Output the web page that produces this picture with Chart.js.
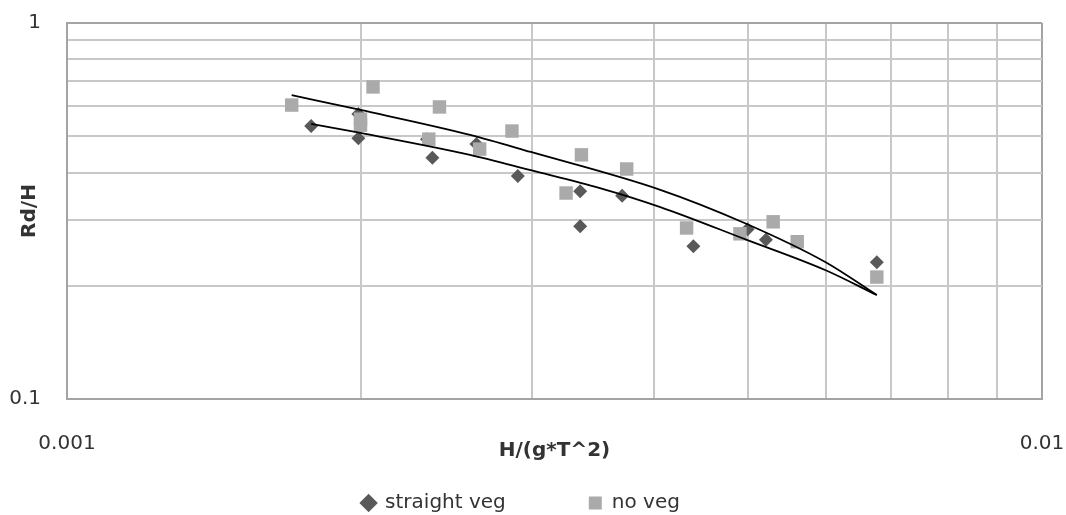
<!DOCTYPE html>
<html lang="en">
<head>
  <meta charset="UTF-8" />
  <title>Rd/H vs H/(g*T^2)</title>
  <style>
    body {
      margin: 0;
      background-color: #ffffff;
    }
    canvas {
      display: block;
    }
  </style>
</head>
<body>
  <canvas id="rdChart" width="1066" height="515"></canvas>

  <script src="https://cdn.jsdelivr.net/npm/chart.js"></script>
  <script>
    const straightVegX = [0.00178, 0.00199, 0.00199, 0.00234, 0.00237, 0.00263, 0.00290,
                          0.00336, 0.00336, 0.00371, 0.00439, 0.00499, 0.00521, 0.00677];
    const straightVegY = [0.532, 0.573, 0.494, 0.491, 0.438, 0.477, 0.392,
                          0.357, 0.288, 0.347, 0.255, 0.283, 0.265, 0.231];

    const noVegX = [0.00170, 0.00200, 0.00200, 0.00206, 0.00235, 0.00241, 0.00265, 0.00286,
                    0.00325, 0.00337, 0.00375, 0.00432, 0.00490, 0.00530, 0.00561, 0.00677];
    const noVegY = [0.605, 0.555, 0.535, 0.676, 0.491, 0.598, 0.462, 0.516,
                    0.353, 0.446, 0.409, 0.285, 0.275, 0.296, 0.262, 0.211];

    // trend lines
    const trendStraightX = [0.00178, 0.00200, 0.00259, 0.00299, 0.00352, 0.00406, 0.00498, 0.00600, 0.00677];
    const trendStraightY = [0.539, 0.510, 0.446, 0.406, 0.364, 0.324, 0.265, 0.220, 0.189];
    const trendNoVegX = [0.00170, 0.00200, 0.00259, 0.00299, 0.00406, 0.00498, 0.00600, 0.00677];
    const trendNoVegY = [0.643, 0.587, 0.504, 0.454, 0.360, 0.292, 0.231, 0.189];

    // axis ticks (gridlines) and which of them carry a label
    const xTicks = [0.001, 0.002, 0.003, 0.004, 0.005, 0.006, 0.007, 0.008, 0.009, 0.01];
    const xTickLabels = [0.001, 0.01];
    const yTicks = [0.1, 0.2, 0.3, 0.4, 0.5, 0.6, 0.7, 0.8, 0.9, 1];
    const yTickLabels = [0.1, 1];

    const FONT = 'DejaVu Sans';
    const TEXT = '#333333';
    const GRID = '#c8c8c8';
    const FRAME = '#a4a4a4';

    const pts = (xs, ys) => xs.map((x, i) => ({ x: x, y: ys[i] }));

    const ctx = document.getElementById('rdChart').getContext('2d');
    const rdChart = new Chart(ctx, {
      type: 'scatter',
      data: {
        datasets: [{
          label: 'straight veg',
          data: pts(straightVegX, straightVegY),
          pointStyle: 'rectRot',
          pointRadius: 7,
          pointHoverRadius: 7,
          borderWidth: 0,
          backgroundColor: '#595959',
          borderColor: '#595959',
          order: 3
        }, {
          label: 'no veg',
          data: pts(noVegX, noVegY),
          pointStyle: 'rect',
          pointRadius: 9.5,
          pointHoverRadius: 9.5,
          borderWidth: 0,
          backgroundColor: '#aaaaaa',
          borderColor: '#aaaaaa',
          order: 2
        }, {
          label: 'trend straight veg',
          data: pts(trendStraightX, trendStraightY),
          showLine: true,
          pointRadius: 0,
          borderColor: '#000000',
          borderWidth: 1.8,
          cubicInterpolationMode: 'monotone',
          order: 1
        }, {
          label: 'trend no veg',
          data: pts(trendNoVegX, trendNoVegY),
          showLine: true,
          pointRadius: 0,
          borderColor: '#000000',
          borderWidth: 1.8,
          cubicInterpolationMode: 'monotone',
          order: 1
        }]
      },
      options: {
        responsive: false,
        animation: false,
        devicePixelRatio: 1,
        layout: {
          padding: { top: 23, left: 0, right: 24, bottom: 0 }
        },
        plugins: {
          tooltip: { enabled: false },
          legend: {
            position: 'bottom',
            maxHeight: 105,
            labels: {
              usePointStyle: true,
              boxWidth: 13,
              boxHeight: 13,
              padding: 83,
              color: TEXT,
              font: { family: FONT, size: 20 },
              filter: item => item.datasetIndex < 2,
              sort: (a, b) => a.datasetIndex - b.datasetIndex
            }
          }
        },
        scales: {
          x: {
            type: 'logarithmic',
            min: 0.001,
            max: 0.01,
            afterBuildTicks: s => { s.ticks = xTicks.map(v => ({ value: v })); },
            afterFit: s => { s.height = 11; s.paddingLeft = 0; s.paddingRight = 0; },
            ticks: {
              autoSkip: false,
              maxRotation: 0,
              mirror: true,   // keeps the labels from being clipped to the short axis box
              padding: -57,
              color: TEXT,
              font: { family: FONT, size: 20 },
              callback: v => xTickLabels.includes(v) ? String(v) : ''
            },
            grid: {
              drawTicks: false,
              lineWidth: 2,
              color: c => (c.tick && c.tick.value === 0.01) ? FRAME : GRID
            },
            border: { display: true, color: FRAME, width: 2 },
            title: {
              display: true,
              text: 'H/(g*T^2)',
              color: TEXT,
              font: { family: FONT, size: 20, weight: 'bold' },
              padding: { top: 0, bottom: -53 }
            }
          },
          y: {
            type: 'logarithmic',
            min: 0.1,
            max: 1,
            afterBuildTicks: s => { s.ticks = yTicks.map(v => ({ value: v })); },
            afterFit: s => { s.width = 67; s.paddingTop = 0; s.paddingBottom = 0; },
            ticks: {
              autoSkip: false,
              padding: 26,
              color: TEXT,
              font: { family: FONT, size: 20 },
              callback: v => yTickLabels.includes(v) ? String(v) : ''
            },
            grid: {
              drawTicks: false,
              lineWidth: 2,
              color: c => (c.tick && c.tick.value === 1) ? FRAME : GRID
            },
            border: { display: true, color: FRAME, width: 2 },
            title: {
              display: true,
              text: 'Rd/H',
              color: TEXT,
              font: { family: FONT, size: 20, weight: 'bold' },
              padding: { top: 18, bottom: 0 }
            }
          }
        }
      }
    });
  </script>
</body>
</html>
